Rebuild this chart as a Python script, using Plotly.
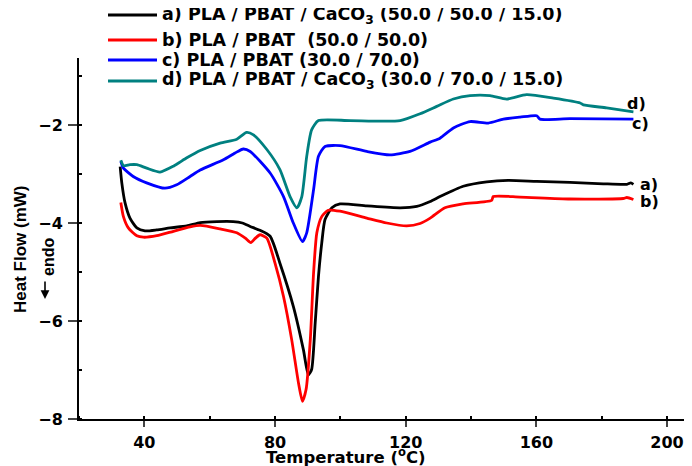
import plotly.graph_objects as go

# ---------------- data ----------------
temp_a = [32.6, 33.1, 34.1, 35.6, 37.7, 40.2, 43.8, 47.9, 53.0, 57.1, 62.2, 67.2, 70.0, 72.4, 75.4,
          78.5, 81.5, 85.6, 88.7, 90.2, 91.2, 92.3, 93.3, 94.3, 95.3, 97.4, 99.9, 108.1, 118.3, 123.4,
          127.5, 130.5, 137.6, 144.8, 151.4, 160.1, 170.3, 180.5, 187.7, 188.9, 189.7]
hf_a = [-2.85, -3.18, -3.59, -3.90, -4.10, -4.16, -4.14, -4.10, -4.06, -3.99, -3.97, -3.97, -4.00, -4.07, -4.15,
        -4.27, -4.82, -5.70, -6.59, -7.10, -6.99, -6.04, -5.09, -4.41, -3.93, -3.69, -3.61, -3.65, -3.69, -3.66,
        -3.56, -3.46, -3.25, -3.16, -3.13, -3.15, -3.17, -3.20, -3.21, -3.18, -3.21]

temp_b = [32.8, 33.6, 35.1, 37.7, 39.7, 43.8, 48.9, 54.0, 57.1, 63.2, 68.3, 70.9, 72.6, 74.0, 75.4,
          77.5, 80.0, 82.6, 85.1, 87.2, 88.4, 89.5, 90.8, 91.8, 92.8, 94.3, 96.3, 99.9, 108.1, 114.2,
          120.3, 124.4, 127.5, 132.0, 137.6, 146.3, 146.8, 155.0, 170.3, 186.6, 187.7, 189.7]
hf_b = [-3.58, -3.87, -4.10, -4.26, -4.29, -4.26, -4.17, -4.08, -4.05, -4.12, -4.20, -4.31, -4.40, -4.31, -4.24,
        -4.31, -4.82, -5.50, -6.38, -7.27, -7.64, -7.40, -6.38, -5.02, -4.20, -3.87, -3.74, -3.76, -3.90, -4.00,
        -4.06, -4.01, -3.90, -3.69, -3.61, -3.54, -3.46, -3.47, -3.51, -3.50, -3.48, -3.52]

temp_c = [32.8, 33.6, 36.6, 40.7, 46.3, 49.9, 54.0, 57.1, 64.2, 67.8, 70.3, 72.4, 78.5, 82.6, 85.6,
          88.4, 89.7, 91.8, 93.3, 95.3, 99.9, 108.1, 115.2, 121.3, 127.5, 130.5, 134.6, 139.7, 145.3, 149.9,
          155.0, 160.1, 161.1, 170.3, 189.7]
hf_c = [-2.74, -2.88, -3.05, -3.18, -3.29, -3.22, -3.05, -2.92, -2.71, -2.57, -2.49, -2.54, -2.98, -3.46, -4.00,
        -4.38, -4.20, -3.32, -2.64, -2.44, -2.42, -2.54, -2.61, -2.54, -2.35, -2.27, -2.06, -1.93, -1.96, -1.88,
        -1.84, -1.81, -1.88, -1.87, -1.88]

temp_d = [32.8, 33.6, 35.6, 37.7, 40.7, 44.8, 48.9, 53.0, 57.1, 63.2, 68.3, 71.3, 73.4, 77.5, 81.5,
          84.6, 86.7, 88.2, 89.7, 91.2, 93.3, 103.0, 118.3, 124.4, 129.5, 134.6, 139.7, 145.8, 150.9, 157.0,
          165.2, 173.4, 174.4, 181.5, 189.7]
hf_d = [-2.72, -2.83, -2.81, -2.81, -2.88, -2.96, -2.84, -2.67, -2.52, -2.37, -2.29, -2.15, -2.20, -2.50, -2.91,
        -3.46, -3.69, -3.46, -2.64, -2.10, -1.91, -1.91, -1.91, -1.77, -1.62, -1.47, -1.40, -1.40, -1.47, -1.38,
        -1.45, -1.55, -1.59, -1.65, -1.73]

legend_names = ["a) PLA / PBAT / CaCO<sub>3</sub> (50.0 / 50.0 / 15.0)",
                "b) PLA / PBAT \u00a0(50.0 / 50.0)",
                "c) PLA / PBAT (30.0 / 70.0)",
                "d) PLA / PBAT / CaCO<sub>3</sub> (30.0 / 70.0 / 15.0)"]
end_labels = ["a)", "b)", "c)", "d)"]
colors = ["#000000", "#ff0000", "#0000ff", "#008080"]

x_ticks = [40, 80, 120, 160, 200]
y_ticks = [-8, -6, -4, -2]

# ---------------- layout geometry ----------------
OFF = 8                      # page body margin
W, H = 692 - OFF, 466 - OFF
ML, MR, MT, MB = 79 - OFF, 0, 58 - OFF, 466 - 419
PW, PH = W - ML - MR, H - MT - MB


def px(xp):  # page pixel -> paper
    return (xp - OFF - ML) / PW


def py(yp):
    return (H - MB - (yp - OFF)) / PH


WIDE = "DejaVu Sans, Verdana, sans-serif"
NARROW = "Liberation Sans, Arial, sans-serif"

fig = go.Figure()
series = [(temp_a, hf_a), (temp_b, hf_b), (temp_c, hf_c), (temp_d, hf_d)]
for (t, h), c, n in zip(series, colors, legend_names):
    fig.add_trace(go.Scatter(x=t, y=h, mode="lines", name=n, showlegend=False,
                             line=dict(color=c, width=2.8, shape="spline", smoothing=0.6)))

annotations = []
shapes = []
# custom legend
leg_rows = [15, 40, 60, 81]
for yrow, c, n in zip(leg_rows, colors, legend_names):
    shapes.append(dict(type="line", xref="paper", yref="paper",
                       x0=px(108), x1=px(157), y0=py(yrow), y1=py(yrow),
                       line=dict(color=c, width=3)))
    annotations.append(dict(xref="paper", yref="paper", x=px(160), y=py(yrow),
                            xanchor="left", yanchor="middle", showarrow=False, text=n,
                            font=dict(family=WIDE, size=17.5, color="black", weight="bold")))

# curve end labels
lab_pos = [(191.0, -3.22), (191.0, -3.57), (188.7, -1.97), (187.1, -1.57)]
for (lx, ly), lt in zip(lab_pos, end_labels):
    annotations.append(dict(x=lx, y=ly, xref="x", yref="y", xanchor="left", yanchor="middle",
                            showarrow=False, text=lt,
                            font=dict(family=WIDE, size=16, color="black", weight="bold")))

# axis titles
annotations.append(dict(xref="paper", yref="paper", x=px(346), y=py(455.5), xanchor="center",
                        yanchor="middle", showarrow=False, text="Temperature (<sup>o</sup>C)",
                        font=dict(family=WIDE, size=16.5, color="black", weight="bold")))
annotations.append(dict(xref="paper", yref="paper", x=px(20), y=py(249), xanchor="center",
                        yanchor="middle", showarrow=False, text="Heat Flow (mW)", textangle=-90,
                        font=dict(family=NARROW, size=17, color="black", weight="bold")))
annotations.append(dict(xref="paper", yref="paper", x=px(48), y=py(257), xanchor="center",
                        yanchor="middle", showarrow=False, text="endo", textangle=-90,
                        font=dict(family=NARROW, size=16, color="black", weight="bold")))
# downward "endo" arrow
annotations.append(dict(xref="paper", yref="paper", x=px(45), y=py(299), text="",
                        showarrow=True, ax=0, ay=-19, arrowhead=2, arrowsize=1.1,
                        arrowwidth=1.6, arrowcolor="black"))

fig.update_layout(
    width=W, height=H,
    margin=dict(l=ML, r=MR, t=MT, b=MB, autoexpand=False),
    paper_bgcolor="white", plot_bgcolor="white",
    showlegend=False,
    annotations=annotations, shapes=shapes,
    font=dict(family=WIDE, color="black"),
)
fig.update_xaxes(range=[20, 20 + PW / 3.267], tickvals=x_ticks, ticks="outside", ticklen=6,
                 tickwidth=1.5, showline=True, linecolor="black", linewidth=2, showgrid=False,
                 zeroline=False, ticklabelstandoff=2, automargin=False,
                 tickfont=dict(family=WIDE, size=16, color="black", weight="bold"),
                 minor=dict(dtick=20, tick0=20, ticks="inside", ticklen=3, tickcolor="black", showgrid=False))
fig.update_yaxes(range=[-8, -8 + PH / 49.0], tickvals=y_ticks, ticks="outside", ticklen=9,
                 tickwidth=1.5, showline=True, linecolor="black", linewidth=2, showgrid=False,
                 zeroline=False, ticklabelstandoff=2, automargin=False,
                 tickfont=dict(family=WIDE, size=16, color="black", weight="bold"),
                 minor=dict(dtick=1, tick0=-8, ticks="inside", ticklen=3, tickcolor="black", showgrid=False))

fig.write_html("out.html")
